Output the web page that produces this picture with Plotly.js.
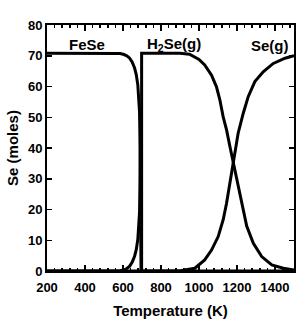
<!DOCTYPE html>
<html><head><meta charset="utf-8">
<script src="https://cdn.plot.ly/plotly-3.0.1.min.js"></script>
<style>html,body{margin:0;padding:0;background:#fff}</style>
</head><body><div id="chart" style="width:307px;height:320px"></div>
<script>
// FeSe
const feseT = [200, 400, 560, 585, 605, 620, 634, 648, 661, 670, 678, 683, 687, 690, 693, 695, 700, 1000, 1500];
const feseY = [70.8, 70.8, 70.8, 70.7, 70.4, 70, 69.3, 68, 66, 63.8, 60.5, 57, 51.7, 40, 20, 0, 0, 0, 0];
// H2Se(g)
const h2seT = [200, 400, 560, 585, 605, 620, 634, 648, 661, 670, 678, 683, 687, 690, 693, 698, 698, 800, 900, 950, 978, 1000, 1030, 1066, 1092, 1110, 1127, 1145, 1163, 1180, 1198, 1224, 1251, 1286, 1330, 1383, 1444, 1500];
const h2seY = [0, 0, 0, 0.1, 0.4, 0.8, 1.5, 2.8, 4.8, 7, 10.3, 13.8, 19.1, 30.8, 50.8, 0, 70.8, 70.8, 70.8, 70.5, 69.6, 68.8, 67, 63.7, 59.9, 55.6, 50.2, 45.9, 40.4, 35.2, 29.6, 22, 14.6, 9, 4.7, 2, 0.9, 0.3];
// Se(g)
const seT = [200, 600, 900, 925, 978, 1030, 1066, 1101, 1127, 1145, 1163, 1180, 1189, 1206, 1233, 1259, 1294, 1338, 1391, 1453, 1500];
const seY = [0, 0, 0, 0.3, 0.9, 3.6, 6.8, 11.2, 16.6, 22, 28.5, 34, 38.3, 44.8, 51.3, 56.7, 61.6, 64.8, 67.5, 69.2, 70];
// labels
const labelText = ['FeSe', 'H<sub>2</sub>Se(g)', 'Se(g)'];
const labelT = [413, 868, 1375];
const labelY = [73.8, 73.8, 73.2];

const fnt = {family: 'Liberation Sans, Arial, sans-serif', color: '#000', weight: 'bold'};
const line = {color: '#000', width: 3};
const traces = [
  {x: feseT, y: feseY, mode: 'lines', line: line, name: 'FeSe'},
  {x: h2seT, y: h2seY, mode: 'lines', line: line, name: 'H2Se(g)'},
  {x: seT, y: seY, mode: 'lines', line: line, name: 'Se(g)'}
];
const ax = {
  showgrid: false, zeroline: false, showline: true, linecolor: '#000', linewidth: 2,
  mirror: 'ticks', ticks: 'inside', tickcolor: '#000', tickwidth: 1.5
};
const layout = {
  width: 307, height: 320,
  margin: {l: 47, r: 13, t: 25, b: 49},
  paper_bgcolor: '#fff', plot_bgcolor: '#fff',
  showlegend: false,
  font: Object.assign({}, fnt, {size: 13}),
  xaxis: Object.assign({}, ax, {
    range: [200, 1500], tick0: 200, dtick: 200, ticklen: 6, ticklabelstandoff: 3,
    minor: {dtick: 40, ticks: 'inside', ticklen: 3, tickcolor: '#000', tickwidth: 1.5, showgrid: false},
    tickfont: Object.assign({}, fnt, {size: 13}),
    title: {text: 'Temperature (K)', font: Object.assign({}, fnt, {size: 15}), standoff: 12}
  }),
  yaxis: Object.assign({}, ax, {
    range: [0, 80], tick0: 0, dtick: 10, ticklen: 5,
    tickfont: Object.assign({}, fnt, {size: 13}),
    title: {text: 'Se (moles)', font: Object.assign({}, fnt, {size: 15}), standoff: 6}
  }),
  annotations: labelText.map((t, i) => ({
    x: labelT[i], y: labelY[i], xref: 'x', yref: 'y', text: t, showarrow: false,
    xanchor: 'center', yanchor: 'middle', font: Object.assign({}, fnt, {size: 15})
  }))
};
Plotly.newPlot('chart', traces, layout, {displayModeBar: false, staticPlot: true});
</script></body></html>
